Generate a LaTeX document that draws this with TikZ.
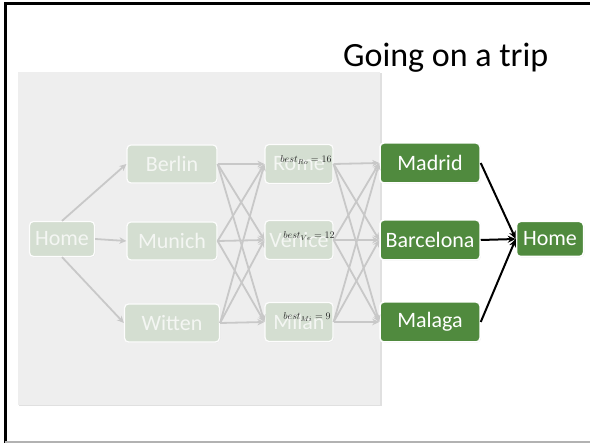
\documentclass[tikz,border=0pt]{standalone}
\usepackage{fontspec}
\setmainfont{Carlito}
\usetikzlibrary{arrows.meta,shadows}
\definecolor{panelgray}{RGB}{238,238,238}
\definecolor{fadefill}{RGB}{212,222,209}
\definecolor{fadetext}{RGB}{244,246,243}
\definecolor{edgegray}{RGB}{200,200,200}
\definecolor{citygreen}{RGB}{80,138,62}
\definecolor{labeltext}{RGB}{40,40,40}
\begin{document}
\begin{tikzpicture}[x=1pt,y=-1pt,
  faded/.style={rectangle, rounded corners=4pt, fill=fadefill, draw=white!95!fadefill, line width=1.2pt,
    text=fadetext, font=\fontsize{22}{24}\selectfont, minimum height=38pt, inner sep=0pt,
    drop shadow={opacity=0.08, shadow xshift=0.8pt, shadow yshift=-0.8pt}},
  city/.style={rectangle, rounded corners=4pt, fill=citygreen, draw=white, line width=1.5pt,
    text=white, font=\fontsize{22}{24}\selectfont, minimum height=40pt, minimum width=100pt, inner sep=0pt,
    drop shadow={opacity=0.15, shadow xshift=0.8pt, shadow yshift=-0.8pt}},
  fedge/.style={draw=edgegray, line width=1.8pt, -{Stealth[length=7pt,width=6.5pt]}},
  bedge/.style={draw=black, line width=2pt, -{Stealth[length=8pt,width=7pt]}},
  lbl/.style={font=\fontsize{10}{12}\selectfont, text=labeltext, inner sep=0pt}
]
\useasboundingbox (0,0) rectangle (590,443);
\fill[white] (0,0) rectangle (590,443);
% frame
\draw[black, line width=3pt] (5,443) -- (5,4) -- (590,4);
\draw[black!30, line width=1.5pt] (5,442.2) -- (590,442.2);
% panel
\fill[black!12] (19,73) rectangle (381.5,406.5);
\fill[panelgray] (18,72) rectangle (380,405);
% title
\node[anchor=base west, font=\fontsize{34}{38}\selectfont, inner sep=0pt] (title) at (343,67) {Going on a trip};
% faded nodes
\node[faded, minimum width=65pt, minimum height=35pt] (home1) at (62,239) {Home};
\node[faded, minimum width=90pt] (berlin) at (172,164) {Berlin};
\node[faded, minimum width=90pt] (munich) at (172,241) {Munich};
\node[faded, minimum width=95pt] (witten) at (172,323) {Witten};
\node[faded, minimum width=68pt, minimum height=39pt] (rome) at (299,164) {Rome};
\node[faded, minimum width=68pt, minimum height=39pt] (venice) at (299,240) {Venice};
\node[faded, minimum width=68pt, minimum height=39pt] (milan) at (299,322) {Milan};
% faded edges
\draw[fedge] (home1.north) -- (berlin.west);
\draw[fedge] (home1.east) -- (munich.west);
\draw[fedge] (home1.south) -- (witten.west);
\foreach \s in {berlin,munich,witten}{
  \foreach \t in {rome,venice,milan}{
    \draw[fedge] (\s.east) -- (\t.west);
  }
}
% green nodes
\node[city] (madrid) at (430,163) {Madrid};
\node[city] (barcelona) at (430,240) {Barcelona};
\node[city] (malaga) at (430,322) {Malaga};
\node[city, minimum width=67pt, minimum height=35pt] (home2) at (550,239) {Home};
\foreach \s in {rome,venice,milan}{
  \foreach \t in {madrid,barcelona,malaga}{
    \draw[fedge] (\s.east) -- (\t.west);
  }
}
% labels
\node[lbl] (bro) at (306,160) {$best_{Ro}=16$};
\node[lbl] (bve) at (309,236) {$best_{Ve}=12$};
\node[lbl] (bmi) at (307,317) {$best_{Mi}=9$};
% black edges
\draw[bedge] (madrid.east) -- (home2.west);
\draw[bedge] (barcelona.east) -- (home2.west);
\draw[bedge] (malaga.east) -- (home2.west);
\end{tikzpicture}
\end{document}
